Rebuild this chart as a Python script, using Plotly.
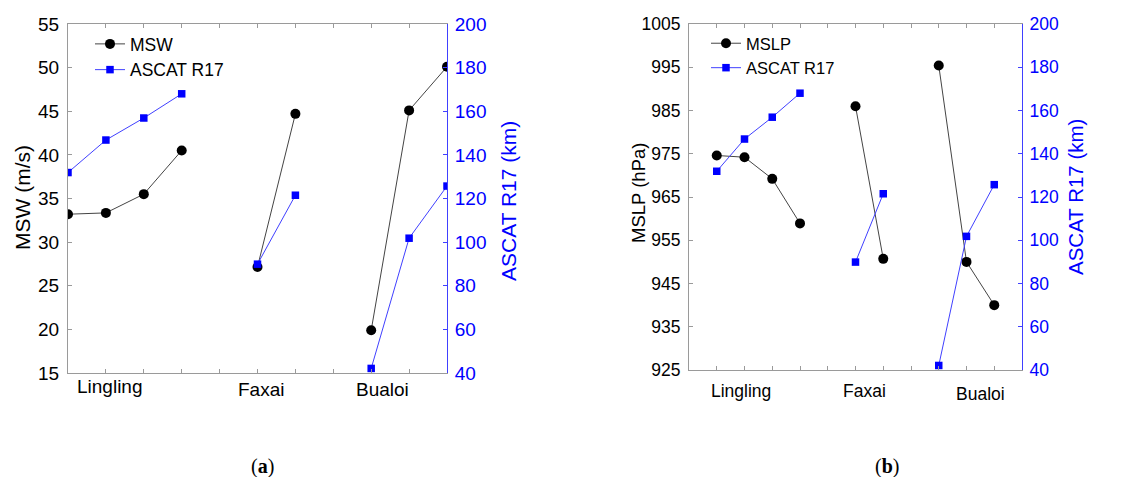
import plotly.graph_objects as go

# ---- data ----
storms = ["Lingling", "Faxai", "Bualoi"]
x_lingling = [1, 2, 3, 4]
x_faxai = [6, 7]
x_bualoi = [9, 10, 11]

msw_lingling = [33.2, 33.35, 35.5, 40.5]
msw_faxai = [27.15, 44.7]
msw_bualoi = [19.9, 45.1, 50.1]

mslp_lingling = [974.6, 974.2, 969.2, 958.9]
mslp_faxai = [986.0, 950.7]
mslp_bualoi = [995.4, 950.0, 940.0]

r17_lingling = [131.9, 146.8, 156.9, 168.0]
r17_faxai = [89.9, 121.5]
r17_bualoi = [42.1, 101.8, 125.7]

left_ticks = [15, 20, 25, 30, 35, 40, 45, 50, 55]
mslp_ticks = [925, 935, 945, 955, 965, 975, 985, 995, 1005]
r17_ticks = [40, 60, 80, 100, 120, 140, 160, 180, 200]


def join(a, b, c):
    return list(a) + [None] + list(b) + [None] + list(c)


xs = join(x_lingling, x_faxai, x_bualoi)
msw = join(msw_lingling, msw_faxai, msw_bualoi)
mslp = join(mslp_lingling, mslp_faxai, mslp_bualoi)
r17 = join(r17_lingling, r17_faxai, r17_bualoi)

W, H = 1137, 477
FONT = "Liberation Sans, Arial, sans-serif"
GRAY = "#9a9a9a"
BLUE = "#0000ff"
BLUE_LINE = "#4040ff"


def px(x):
    return x / W


def py(y):
    return 1 - y / H


fig = go.Figure()

black_marker = dict(symbol="circle", size=10, color="black")
blue_marker = dict(symbol="square", size=7.5, color=BLUE)

fig.add_trace(go.Scatter(x=xs, y=msw, name="MSW", mode="lines+markers",
                         line=dict(color="#444444", width=1), marker=black_marker,
                         xaxis="x", yaxis="y", legend="legend", connectgaps=False))
fig.add_trace(go.Scatter(x=xs, y=r17, name="ASCAT R17", mode="lines+markers",
                         line=dict(color=BLUE_LINE, width=1), marker=blue_marker,
                         xaxis="x", yaxis="y2", legend="legend", connectgaps=False))
fig.add_trace(go.Scatter(x=xs, y=mslp, name="MSLP", mode="lines+markers",
                         line=dict(color="#444444", width=1), marker=black_marker,
                         xaxis="x2", yaxis="y3", legend="legend2", connectgaps=False))
fig.add_trace(go.Scatter(x=xs, y=r17, name="ASCAT R17", mode="lines+markers",
                         line=dict(color=BLUE_LINE, width=1), marker=blue_marker,
                         xaxis="x2", yaxis="y4", legend="legend2", connectgaps=False))

# panel geometry (pixels)
L1, R1, T1, B1 = 68, 447, 24, 373
L2, R2, T2, B2 = 689, 1022, 24, 370

xcommon = dict(showgrid=False, zeroline=False, showticklabels=False, ticks="inside",
               ticklen=4, tickcolor=GRAY, showline=True, linecolor=GRAY, linewidth=1,
               mirror="ticks", dtick=1, tick0=0)
ycommon = dict(showgrid=False, zeroline=False, ticks="inside", ticklen=4,
               showline=True, linewidth=1)

fig.update_layout(
    width=W, height=H,
    margin=dict(l=0, r=0, t=0, b=0, autoexpand=False),
    paper_bgcolor="white", plot_bgcolor="white",
    font=dict(family=FONT, color="black"),
    xaxis=dict(domain=[px(L1), px(R1)], range=[1, 11], anchor="y", **xcommon),
    yaxis=dict(domain=[py(B1), py(T1)], range=[15, 55], tickvals=left_ticks, anchor="x",
               linecolor=GRAY, tickcolor=GRAY, tickfont=dict(size=19, color="black"),
               ticklabelstandoff=4, **ycommon),
    yaxis2=dict(overlaying="y", side="right", anchor="x", range=[40, 200], tickvals=r17_ticks,
                linecolor=BLUE_LINE, tickcolor=BLUE_LINE, tickfont=dict(size=19, color=BLUE),
                ticklabelstandoff=3, **ycommon),
    xaxis2=dict(domain=[px(L2), px(R2)], range=[0, 12], anchor="y3", **xcommon),
    yaxis3=dict(domain=[py(B2), py(T2)], range=[925, 1005], tickvals=mslp_ticks, anchor="x2",
                linecolor=GRAY, tickcolor=GRAY, tickfont=dict(size=17.5, color="black"),
                ticklabelstandoff=4, **ycommon),
    yaxis4=dict(overlaying="y3", side="right", anchor="x2", range=[40, 200], tickvals=r17_ticks,
                linecolor=BLUE_LINE, tickcolor=BLUE_LINE, tickfont=dict(size=17.5, color=BLUE),
                ticklabelstandoff=3, **ycommon),
    legend=dict(x=px(90), y=py(26), xanchor="left", yanchor="top", bgcolor="rgba(0,0,0,0)",
                font=dict(size=17.5, color="black"), itemwidth=30, tracegroupgap=0,
                borderwidth=0),
    legend2=dict(x=px(706), y=py(26), xanchor="left", yanchor="top", bgcolor="rgba(0,0,0,0)",
                 font=dict(size=16.5, color="black"), itemwidth=30, tracegroupgap=0,
                 borderwidth=0),
    showlegend=True,
)

ann = []
C = dict(xanchor="center", yanchor="middle", showarrow=False)
# axis titles
ann.append(dict(text="MSW (m/s)", x=px(22), y=py(198), xref="paper", yref="paper",
                textangle=-90, font=dict(size=21, color="black"), **C))
ann.append(dict(text="ASCAT R17 (km)", x=px(508), y=py(201), xref="paper", yref="paper",
                textangle=-90, font=dict(size=21, color=BLUE), **C))
ann.append(dict(text="MSLP (hPa)", x=px(638), y=py(193), xref="paper", yref="paper",
                textangle=-90, font=dict(size=18.5, color="black"), **C))
ann.append(dict(text="ASCAT R17 (km)", x=px(1075), y=py(197), xref="paper", yref="paper",
                textangle=-90, font=dict(size=20.5, color=BLUE), **C))

# storm labels
left_label_x = [2.1, 6.1, 9.3]
left_label_y = [386, 389, 389]
right_label_x = [1.89, 6.33, 10.5]
right_label_y = [391, 391, 394]
for name, lx, ly in zip(storms, left_label_x, left_label_y):
    ann.append(dict(text=name, x=lx, y=py(ly), xref="x", yref="paper",
                    font=dict(size=19, color="black"), **C))
for name, lx, ly in zip(storms, right_label_x, right_label_y):
    ann.append(dict(text=name, x=lx, y=py(ly), xref="x2", yref="paper",
                    font=dict(size=17.5, color="black"), **C))

# panel captions
ann.append(dict(text="(<b>a</b>)", x=px(262), y=py(466), xref="paper", yref="paper",
                font=dict(size=20, color="black", family="Liberation Serif, serif"), **C))
ann.append(dict(text="(<b>b</b>)", x=px(887), y=py(466), xref="paper", yref="paper",
                font=dict(size=20, color="black", family="Liberation Serif, serif"), **C))

fig.update_layout(annotations=ann)
fig.write_html("out.html")
